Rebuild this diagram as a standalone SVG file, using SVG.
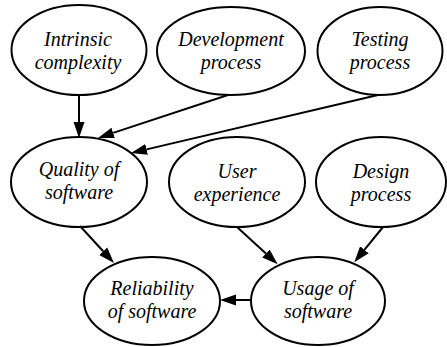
<svg xmlns="http://www.w3.org/2000/svg" width="447" height="347" viewBox="0 0 447 347">
<style>
.n ellipse{fill:none;stroke:#000;stroke-width:2}
.n text{font-family:'Liberation Serif';font-style:italic;font-size:20px;fill:#000;text-anchor:middle}
.n text.u{font-style:normal}
.e line{stroke:#000;stroke-width:2;marker-end:url(#ah)}
</style>
<defs>
<marker id="ah" markerUnits="userSpaceOnUse" markerWidth="16" markerHeight="12" viewBox="0 0 16 12" refX="0" refY="6" orient="auto">
<path d="M0,0.5 L16,6 L0,11.5 Z" fill="#000"/>
</marker>
</defs>
<rect width="447" height="347" fill="#fff"/>
<g id="edges" class="e">
<line x1="79" y1="95" x2="79" y2="122"/>
<line x1="228" y1="95" x2="113.2" y2="132.9"/>
<line x1="378" y1="95" x2="146.6" y2="149.4"/>
<line x1="80" y1="226" x2="103.2" y2="251.2"/>
<line x1="237" y1="227" x2="265.9" y2="253.5"/>
<line x1="383" y1="227" x2="364.4" y2="249.8"/>
<line x1="251" y1="300" x2="236" y2="300"/>
</g>
<g id="intrinsic" class="n"><ellipse cx="79" cy="50" rx="67.5" ry="45"/><text x="78" y="46">Intrinsic</text><text x="78" y="69">complexity</text></g>
<g id="development" class="n"><ellipse cx="231" cy="51" rx="74" ry="44"/><text x="231" y="46">Development</text><text x="231" y="69">process</text></g>
<g id="testing" class="n"><ellipse cx="380" cy="51" rx="62.5" ry="44"/><text x="380" y="46">Testing</text><text x="380" y="69">process</text></g>
<g id="quality" class="n"><ellipse cx="79" cy="182" rx="68" ry="45"/><text x="79" y="176">Quality of</text><text x="79" y="199">software</text></g>
<g id="user" class="n"><ellipse cx="237" cy="182" rx="68" ry="45"/><text x="237" y="178">User</text><text x="237" y="201">experience</text></g>
<g id="design" class="n"><ellipse cx="381" cy="182" rx="65" ry="45"/><text x="381" y="178">Design</text><text x="381" y="201">process</text></g>
<g id="reliability" class="n"><ellipse cx="152" cy="301" rx="68" ry="44"/><text x="152" y="295">Reliability</text><text x="152" y="318">of software</text></g>
<g id="usage" class="n"><ellipse cx="318" cy="301" rx="67" ry="44"/><text x="318" y="295">Usage of</text><text x="318" y="318">software</text></g>
</svg>
